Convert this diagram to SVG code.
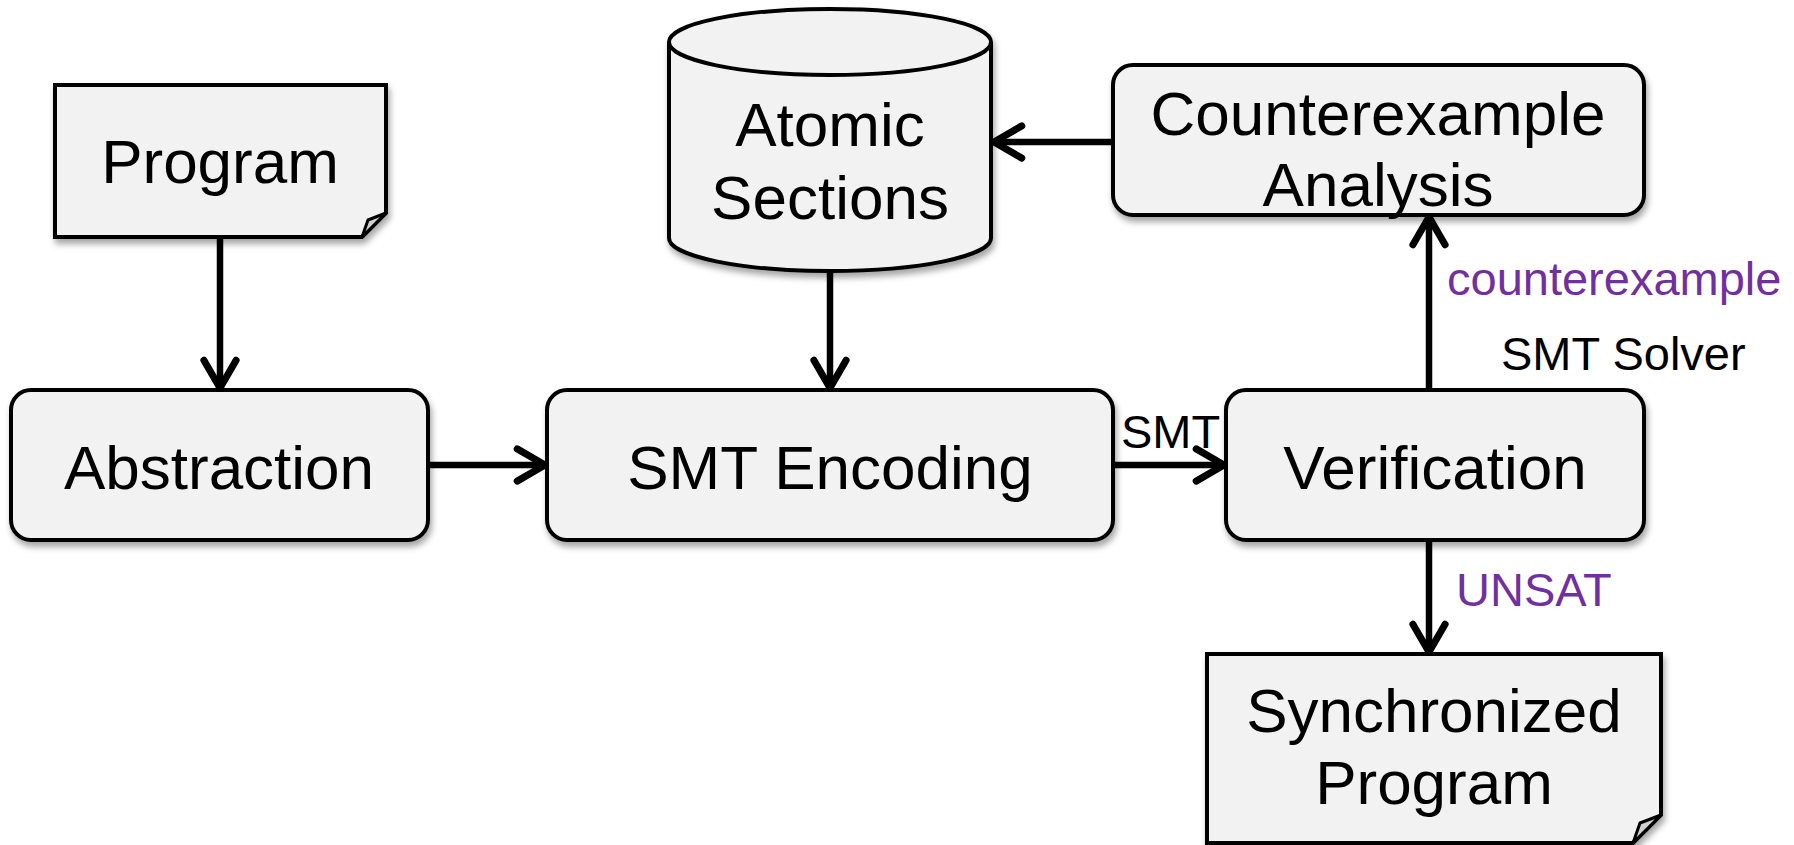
<svg xmlns="http://www.w3.org/2000/svg" width="1794" height="845" viewBox="0 0 1794 845">
<style>
.box{fill:#f2f2f2;stroke:#000;stroke-width:4;filter:url(#sh)}
.fold{fill:#d0d0d0;stroke:#000;stroke-width:3;stroke-linejoin:round}
.t{font-family:"Liberation Sans",Arial,sans-serif;font-size:62px;fill:#000;text-anchor:middle}
.lb{font-family:"Liberation Sans",Arial,sans-serif;font-size:47px;fill:#000}
.pu{fill:#7030a0}
.c{stroke:#000;stroke-width:6.5;fill:none;marker-end:url(#ah)}
</style>
<defs>
<filter id="sh" x="-10%" y="-10%" width="130%" height="140%">
<feDropShadow dx="2" dy="5" stdDeviation="3" flood-color="#000" flood-opacity="0.35"/>
</filter>
<marker id="ah" viewBox="0 0 12 14" refX="11" refY="7" markerWidth="5.4" markerHeight="6.3" orient="auto" markerUnits="strokeWidth">
<path d="M1.5,1.5 L11,7 L1.5,12.5" fill="none" stroke="#000" stroke-width="2.4" stroke-linecap="round" stroke-linejoin="round"/>
</marker>
</defs>
<g id="connectors">
<line class="c" x1="220" y1="239" x2="220" y2="388"/>
<line class="c" x1="830" y1="273" x2="830" y2="388"/>
<line class="c" x1="430" y1="465" x2="545" y2="465"/>
<line class="c" x1="1115" y1="465" x2="1224" y2="465"/>
<line class="c" x1="1429" y1="388" x2="1429" y2="217"/>
<line class="c" x1="1429" y1="542" x2="1429" y2="652"/>
<line class="c" x1="1111" y1="142" x2="994" y2="142"/>
</g>
<g id="program">
<path class="box" d="M55,85 H386 V213 L362,237 H55 Z"/>
<path class="fold" d="M362,237 L368,220 L386,213 Z"/>
<text class="t" x="220" y="183">Program</text>
</g>
<g id="atomic-sections">
<path class="box" d="M669,42 A161,33 0 0 1 991,42 V238 A161,33 0 0 1 669,238 Z"/>
<path d="M669,42 A161,33 0 0 0 991,42" fill="none" stroke="#000" stroke-width="4"/>
<text class="t" x="830" y="146">Atomic</text>
<text class="t" x="830" y="219">Sections</text>
</g>
<g id="counterexample-analysis">
<rect class="box" x="1113" y="65" width="531" height="150" rx="20"/>
<text class="t" x="1378" y="135">Counterexample</text>
<text class="t" x="1378" y="206">Analysis</text>
</g>
<g id="abstraction">
<rect class="box" x="11" y="390" width="417" height="150" rx="20"/>
<text class="t" x="219" y="489">Abstraction</text>
</g>
<g id="smt-encoding">
<rect class="box" x="547" y="390" width="566" height="150" rx="20"/>
<text class="t" x="830" y="489">SMT Encoding</text>
</g>
<g id="verification">
<rect class="box" x="1226" y="390" width="418" height="150" rx="20"/>
<text class="t" x="1435" y="489">Verification</text>
</g>
<g id="synchronized-program">
<path class="box" d="M1207,654 H1661 V815 L1633,843 H1207 Z"/>
<path class="fold" d="M1633,843 L1640,823 L1661,815 Z"/>
<text class="t" x="1434" y="732">Synchronized</text>
<text class="t" x="1434" y="804">Program</text>
</g>
<g id="labels">
<text class="lb pu" x="1447" y="295">counterexample</text>
<text class="lb" x="1501" y="370">SMT Solver</text>
<text class="lb" x="1121" y="448">SMT</text>
<text class="lb pu" x="1456" y="606">UNSAT</text>
</g>
</svg>
